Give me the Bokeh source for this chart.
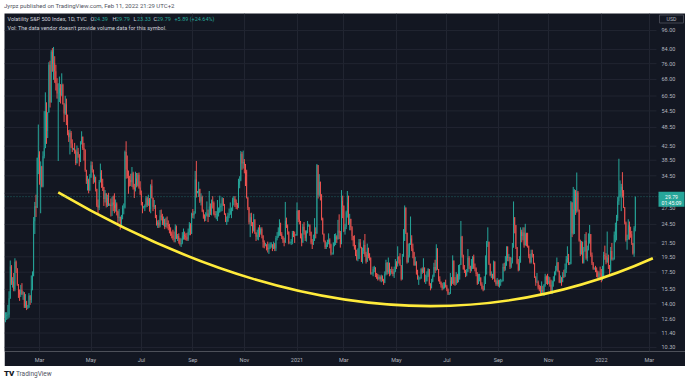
import math
import pandas as pd
from bokeh.plotting import figure
from bokeh.models import ColumnDataSource, FixedTicker, Range1d, Label, Span, Div
from bokeh.layouts import column
from bokeh.embed import file_html
from bokeh.resources import INLINE
from bokeh.core.properties import value

# ---------------- data (VIX daily, business days from 2020-01-21) ----------------
START = "2020-01-21"
FIRST_OPEN = 12.40

C20 = [
    12.85, 12.91, 12.98, 14.56, 18.23, 16.28, 16.39, 15.49, 18.84,  # Jan
    17.97, 16.05, 15.15, 14.96, 15.47, 15.04, 15.18, 13.74, 14.15, 13.68, 13.68, 14.83, 14.38, 15.56, 17.08, 25.03, 27.85, 27.56, 39.16, 40.11,  # Feb
    33.42, 36.82, 31.99, 39.62, 41.94, 54.46, 47.30, 53.90, 75.47, 57.83, 82.69, 75.91, 76.45, 72.00, 66.04, 61.59, 61.67, 63.95, 61.00, 65.54, 57.08, 53.54,  # Mar
    57.06, 50.91, 46.80, 45.24, 46.70, 43.35, 41.67, 41.67, 41.17, 37.76, 40.84, 40.11, 38.15, 43.83, 45.41, 41.98, 41.38, 35.93, 33.29, 33.57, 31.23, 34.15,  # Apr
    37.19, 35.97, 33.61, 34.12, 31.44, 27.98, 27.57, 33.04, 35.28, 32.61, 31.89, 29.30, 30.53, 27.99, 29.53, 28.16, 28.16, 27.91, 28.59, 28.12, 27.51,  # May
    28.23, 26.84, 25.66, 25.81, 24.52, 25.81, 27.57, 27.57, 40.79, 36.09, 34.40, 33.67, 33.47, 32.94, 35.12, 31.77, 31.37, 33.84, 32.22, 34.73, 31.78, 30.43,  # Jun
    28.62, 27.68, 27.68, 27.94, 29.43, 28.08, 29.26, 27.29, 32.19, 29.52, 27.76, 28.00, 25.68, 24.46, 24.84, 24.32, 26.08, 25.84, 24.74, 25.44, 24.10, 24.76, 24.46,  # Jul
    24.28, 23.76, 22.99, 22.65, 22.21, 22.13, 24.03, 22.28, 22.59, 22.05, 21.35, 21.51, 22.54, 22.72, 22.54, 22.37, 22.03, 23.27, 24.47, 22.96, 26.41,  # Aug
    26.12, 26.57, 33.60, 30.75, 30.75, 31.46, 28.81, 29.71, 26.87, 25.85, 25.59, 26.04, 26.46, 25.83, 27.78, 26.86, 28.58, 28.51, 26.38, 26.19, 26.27, 26.37,  # Sep
    26.70, 27.63, 27.96, 29.48, 28.06, 26.36, 25.00, 25.07, 26.07, 26.40, 26.97, 27.41, 29.18, 29.35, 28.65, 28.11, 27.55, 32.46, 33.35, 40.28, 37.59, 38.02,  # Oct
    37.13, 35.55, 29.57, 27.58, 24.86, 25.75, 24.80, 23.45, 25.35, 23.10, 22.45, 22.71, 23.84, 23.11, 23.70, 22.66, 21.64, 21.25, 21.25, 20.84, 20.57,  # Nov
    20.77, 21.17, 21.28, 20.79, 21.30, 20.68, 22.27, 22.52, 23.31, 24.72, 22.89, 22.50, 21.93, 21.57, 25.16, 24.23, 23.31, 21.53, 21.53, 21.70, 23.08, 22.77, 22.75,  # Dec
]
H20 = [
    13.2, 13.2, 13.9, 15.3, 19.0, 18.4, 16.9, 17.4, 19.3,
    19.0, 18.0, 16.1, 15.5, 16.0, 16.2, 15.3, 15.2, 15.0, 14.3, 13.9, 15.1, 14.9, 17.1, 17.6, 25.8, 28.7, 30.2, 39.2, 49.5,
    41.0, 38.2, 37.0, 41.0, 54.4, 62.1, 57.9, 54.0, 76.8, 77.6, 83.6, 84.8, 85.5, 80.1, 75.4, 68.6, 66.2, 69.4, 65.8, 71.0, 66.0, 57.6,
    60.6, 59.4, 53.1, 47.6, 47.8, 47.3, 44.6, 42.0, 43.5, 41.5, 42.7, 42.0, 40.2, 44.0, 47.2, 45.5, 43.5, 41.6, 36.0, 34.5, 33.8, 34.9,
    38.2, 38.1, 36.1, 34.8, 34.3, 31.5, 29.2, 33.5, 37.6, 35.9, 33.8, 31.9, 31.2, 30.5, 30.2, 30.6, 28.4, 29.4, 29.8, 30.0, 30.5,
    29.2, 28.6, 27.0, 27.3, 25.9, 26.2, 28.0, 28.4, 41.2, 44.0, 39.8, 35.8, 34.5, 35.0, 36.7, 35.5, 32.6, 35.5, 35.2, 35.2, 35.3, 33.2,
    31.1, 28.7, 27.9, 28.2, 29.9, 29.8, 30.2, 29.5, 32.5, 33.6, 29.6, 29.1, 28.1, 26.2, 25.2, 25.3, 27.1, 27.2, 26.4, 25.9, 25.5, 25.7, 25.9,
    25.2, 24.6, 24.0, 23.3, 23.6, 23.3, 24.5, 24.3, 22.9, 23.0, 22.3, 22.2, 23.2, 23.8, 23.3, 23.0, 23.1, 23.8, 24.9, 24.7, 26.6,
    27.3, 26.9, 35.7, 38.3, 31.0, 33.1, 31.5, 30.5, 30.0, 27.2, 26.3, 26.7, 28.8, 27.2, 31.0, 28.4, 29.2, 29.9, 28.8, 26.9, 26.9, 29.1,
    27.6, 30.0, 28.4, 29.7, 29.5, 28.3, 26.5, 25.9, 26.6, 27.4, 28.6, 27.6, 29.6, 29.9, 29.9, 29.2, 28.5, 33.8, 34.4, 41.1, 40.8, 41.2,
    38.8, 37.5, 36.0, 29.7, 27.7, 26.5, 26.6, 24.9, 26.4, 25.4, 23.2, 23.6, 24.0, 24.4, 24.0, 24.0, 22.7, 21.9, 21.5, 21.3, 21.7,
    21.4, 21.6, 21.6, 21.3, 21.7, 21.5, 22.6, 23.2, 24.0, 25.4, 24.8, 23.2, 22.6, 22.3, 28.7, 25.7, 24.5, 23.3, 21.7, 22.1, 23.4, 23.4, 23.3,
]
L20 = [
    12.3, 12.5, 12.6, 12.7, 14.5, 16.0, 15.7, 15.3, 15.3,
    17.4, 15.9, 14.6, 14.3, 14.7, 14.9, 14.4, 13.6, 13.6, 13.4, 13.5, 13.6, 13.9, 14.1, 15.4, 17.0, 22.9, 25.8, 27.5, 34.9,
    32.4, 26.5, 31.8, 31.8, 39.0, 41.9, 43.2, 45.0, 53.8, 55.8, 57.8, 71.8, 67.8, 66.4, 62.9, 59.4, 38.3, 58.0, 57.4, 60.4, 57.0, 50.4,
    53.0, 49.3, 45.9, 43.8, 40.1, 42.0, 40.8, 41.3, 40.3, 37.2, 37.6, 39.2, 36.9, 38.0, 43.0, 41.4, 38.4, 35.5, 32.6, 31.1, 30.5, 31.0,
    34.0, 35.3, 32.6, 32.9, 30.9, 27.7, 26.5, 27.1, 32.9, 31.7, 31.0, 27.9, 28.6, 27.6, 27.7, 27.9, 27.9, 25.9, 26.0, 26.9, 26.5,
    26.8, 26.1, 24.6, 25.0, 23.6, 24.3, 25.4, 26.3, 27.4, 33.8, 33.9, 30.4, 32.0, 32.1, 31.9, 31.3, 29.5, 30.9, 31.8, 32.0, 31.5, 30.1,
    28.0, 26.5, 27.4, 26.9, 27.6, 27.7, 27.9, 26.8, 26.5, 29.4, 26.9, 27.3, 25.6, 24.3, 23.9, 23.9, 24.0, 25.2, 24.4, 24.3, 23.7, 24.0, 23.8,
    23.5, 23.0, 22.6, 22.2, 21.9, 21.6, 21.6, 22.1, 21.8, 21.4, 21.1, 20.9, 21.3, 22.0, 22.0, 21.9, 21.8, 21.8, 22.7, 22.7, 22.9,
    25.6, 25.5, 26.4, 29.6, 30.5, 29.7, 28.5, 28.0, 26.7, 25.5, 25.0, 25.1, 25.9, 24.9, 25.8, 26.2, 26.1, 27.4, 26.1, 25.7, 25.4, 25.1,
    25.9, 26.6, 26.8, 26.9, 27.9, 26.2, 24.9, 24.4, 24.9, 25.6, 26.2, 25.6, 26.9, 28.0, 27.7, 27.3, 27.2, 27.5, 31.6, 33.2, 36.0, 36.3,
    35.1, 32.1, 29.4, 27.1, 24.5, 22.4, 24.2, 23.0, 23.3, 22.9, 21.8, 22.0, 21.9, 22.4, 22.8, 22.2, 20.8, 20.7, 21.0, 20.4, 20.1,
    19.9, 20.6, 20.8, 20.3, 20.6, 20.3, 20.3, 21.9, 22.3, 22.6, 22.6, 22.1, 21.5, 21.0, 21.5, 23.9, 22.8, 21.3, 21.4, 21.2, 21.3, 22.4, 21.5,
]

C21 = [
    22.75, 26.97, 25.34, 25.07, 22.37, 21.56, 24.08, 23.33, 22.21, 23.25, 24.34, 24.34, 23.24, 21.58, 21.32, 21.91, 23.19, 23.02, 37.21, 30.21, 33.09,  # Jan
    30.24, 25.56, 22.91, 21.77, 20.87, 21.24, 21.63, 21.99, 21.25, 19.97, 19.97, 21.46, 21.50, 22.49, 22.05, 23.45, 23.11, 21.34, 28.89, 27.95,  # Feb
    23.35, 24.10, 26.67, 28.57, 24.66, 25.47, 24.03, 22.56, 21.91, 20.69, 19.79, 19.23, 19.23, 21.58, 20.95, 18.88, 20.30, 21.20, 19.81, 18.86, 20.74, 19.61, 19.40,  # Mar
    17.33, 17.33, 17.91, 18.12, 17.16, 16.95, 16.69, 16.91, 16.65, 16.99, 16.57, 16.25, 17.29, 18.68, 17.50, 18.71, 17.33, 17.64, 17.56, 17.28, 17.61, 18.61,  # Apr
    18.31, 19.48, 19.15, 18.39, 16.69, 19.66, 21.84, 27.59, 23.13, 18.81, 19.72, 21.34, 22.18, 20.67, 20.15, 18.40, 18.84, 17.36, 16.74, 16.76, 16.76,  # May
    17.90, 17.48, 18.04, 16.42, 16.42, 17.07, 17.89, 16.10, 15.65, 16.39, 17.02, 18.15, 17.75, 20.70, 17.89, 16.66, 16.32, 15.97, 15.62, 15.76, 16.02, 15.83,  # Jun
    15.48, 15.07, 15.07, 16.44, 16.20, 19.00, 16.18, 16.17, 17.12, 16.33, 17.01, 18.45, 22.50, 19.73, 17.91, 17.69, 17.20, 17.58, 19.36, 18.31, 17.70, 18.24,  # Jul
    19.46, 18.04, 17.97, 17.28, 16.15, 16.72, 16.79, 16.06, 15.59, 15.45, 16.12, 17.91, 21.57, 21.67, 18.56, 17.15, 17.22, 16.79, 18.84, 16.39, 16.11, 16.48,  # Aug
    16.11, 16.41, 16.41, 16.41, 18.14, 17.96, 18.80, 20.95, 19.37, 19.46, 18.18, 18.69, 20.81, 25.71, 24.36, 20.87, 18.63, 17.75, 18.76, 23.25, 22.56, 23.14,  # Sep
    21.15, 22.96, 21.30, 21.00, 19.54, 18.77, 20.00, 19.85, 18.64, 16.86, 16.30, 16.30, 15.70, 15.49, 15.01, 15.43, 15.24, 15.98, 16.98, 16.53, 16.26,  # Oct
    16.41, 16.03, 15.10, 16.39, 16.48, 17.22, 17.78, 18.73, 17.66, 16.29, 16.49, 16.37, 17.11, 16.99, 17.91, 19.17, 19.38, 18.58, 18.58, 28.62, 22.96, 27.19,  # Nov
    31.12, 26.88, 30.67, 27.18, 21.89, 19.90, 21.58, 18.69, 20.31, 21.89, 19.29, 20.57, 21.57, 22.87, 19.70, 18.63, 17.96, 17.96, 17.68, 17.54, 16.95, 17.33, 17.22,  # Dec
]
H21 = [
    22.9, 28.6, 27.1, 27.1, 25.1, 23.0, 24.6, 24.9, 23.5, 23.5, 25.1, 24.6, 24.5, 23.3, 22.1, 22.8, 25.6, 24.0, 37.5, 37.2, 34.9,
    33.1, 30.3, 25.7, 23.0, 21.9, 21.6, 22.0, 23.0, 22.2, 21.4, 20.1, 21.6, 22.9, 23.0, 22.7, 25.3, 26.3, 23.4, 31.2, 30.0,
    28.0, 24.6, 27.0, 31.0, 30.0, 26.4, 25.5, 24.2, 22.6, 22.7, 21.2, 20.5, 20.7, 22.1, 22.1, 20.9, 20.8, 21.9, 22.9, 20.2, 21.4, 20.8, 20.0,
    19.4, 17.5, 18.2, 18.3, 18.1, 17.4, 17.3, 17.2, 17.1, 17.2, 17.1, 16.7, 17.6, 19.1, 18.8, 19.4, 18.7, 17.9, 18.2, 17.9, 18.2, 19.2,
    18.9, 21.0, 19.6, 20.0, 18.4, 19.9, 23.7, 28.0, 27.6, 23.1, 21.4, 21.5, 25.9, 22.7, 21.4, 20.2, 19.5, 18.9, 17.8, 17.1, 16.9,
    18.0, 18.1, 19.3, 18.1, 17.2, 17.6, 18.0, 17.9, 16.2, 16.7, 17.2, 18.7, 19.1, 21.3, 20.7, 17.9, 17.0, 16.4, 16.2, 16.3, 16.3, 16.6,
    16.0, 15.6, 15.2, 17.4, 16.9, 19.7, 19.0, 16.9, 17.5, 17.3, 18.4, 18.5, 25.1, 22.6, 19.8, 18.4, 17.8, 17.9, 20.6, 19.6, 18.3, 19.2,
    19.6, 19.8, 18.6, 18.1, 17.5, 17.3, 17.3, 16.9, 16.3, 15.9, 17.0, 19.7, 21.8, 24.0, 21.7, 18.6, 17.6, 17.3, 19.0, 18.9, 16.6, 16.8,
    16.6, 16.6, 16.7, 16.6, 18.6, 18.7, 19.6, 21.0, 21.0, 19.9, 19.5, 19.4, 21.5, 28.8, 25.8, 24.4, 20.9, 19.2, 19.6, 24.0, 23.6, 24.0,
    24.0, 24.6, 23.1, 23.1, 21.1, 19.9, 20.5, 20.5, 19.9, 18.7, 17.0, 17.4, 16.5, 16.0, 15.9, 16.4, 15.9, 16.1, 17.3, 17.1, 17.3,
    17.0, 16.9, 16.6, 16.5, 17.0, 17.6, 18.3, 19.4, 18.8, 17.7, 17.1, 16.9, 17.5, 17.8, 18.6, 19.6, 21.0, 19.9, 18.8, 28.9, 28.6, 31.9,
    31.4, 31.2, 35.3, 31.0, 27.2, 22.0, 21.8, 21.7, 20.9, 22.9, 23.2, 21.1, 23.0, 24.4, 22.9, 20.1, 18.8, 18.1, 18.3, 18.1, 17.7, 17.6, 18.2,
]
L21 = [
    22.6, 22.6, 24.9, 24.5, 22.2, 21.0, 21.5, 22.8, 21.8, 21.7, 23.0, 24.1, 22.6, 21.3, 20.6, 21.2, 21.8, 22.2, 22.9, 29.4, 29.8,
    29.0, 25.2, 22.8, 21.6, 20.6, 20.6, 20.9, 21.3, 20.7, 19.7, 19.8, 19.8, 21.0, 21.2, 21.5, 22.0, 22.1, 20.8, 21.3, 25.6,
    23.2, 22.8, 23.7, 25.7, 24.4, 23.5, 23.5, 21.9, 21.0, 20.5, 19.6, 19.0, 18.9, 19.2, 20.7, 18.8, 18.6, 19.9, 19.5, 18.6, 18.8, 19.3, 19.0,
    17.2, 17.2, 17.0, 17.5, 16.9, 16.7, 16.5, 16.6, 16.4, 16.3, 16.4, 16.0, 16.2, 17.1, 17.2, 17.3, 17.0, 17.1, 17.3, 17.0, 16.8, 17.5,
    17.9, 18.2, 18.6, 18.3, 16.5, 16.6, 19.5, 21.8, 22.9, 18.6, 18.7, 19.4, 21.2, 20.3, 19.3, 18.3, 18.3, 17.2, 16.6, 16.0, 16.6,
    16.7, 17.3, 17.4, 16.3, 16.1, 16.4, 16.9, 15.9, 15.4, 15.6, 16.3, 16.9, 17.4, 17.7, 17.8, 16.4, 16.1, 15.7, 15.4, 15.5, 15.6, 15.7,
    15.3, 14.9, 14.9, 15.0, 15.9, 16.1, 16.0, 15.9, 16.0, 16.2, 16.3, 16.6, 18.4, 19.4, 17.8, 17.4, 16.9, 17.0, 17.5, 17.9, 17.4, 17.6,
    17.9, 17.9, 17.6, 17.0, 16.0, 16.1, 16.4, 15.9, 15.5, 15.3, 15.4, 16.1, 17.2, 20.9, 18.4, 17.0, 16.8, 16.6, 16.7, 16.3, 15.9, 15.9,
    15.8, 15.7, 15.9, 16.3, 16.4, 17.6, 17.7, 18.3, 18.9, 18.9, 17.9, 18.0, 18.6, 20.8, 23.0, 20.6, 18.5, 17.6, 17.7, 18.7, 21.6, 21.9,
    20.8, 21.1, 21.0, 20.8, 19.3, 18.6, 18.6, 19.4, 18.5, 16.8, 15.9, 16.2, 15.5, 15.3, 14.9, 14.9, 15.0, 14.8, 15.8, 16.1, 16.0,
    16.1, 15.8, 15.0, 15.0, 15.8, 16.4, 17.1, 17.6, 17.5, 16.2, 16.2, 15.9, 16.3, 16.8, 16.9, 17.4, 18.7, 18.4, 18.4, 18.5, 22.4, 22.8,
    22.9, 26.2, 26.6, 26.8, 21.7, 19.6, 19.8, 18.6, 18.6, 20.2, 19.1, 18.9, 20.4, 21.4, 19.5, 18.4, 17.8, 17.8, 17.5, 16.9, 16.8, 16.6, 16.7,
]

C22 = [
    16.60, 16.91, 19.73, 19.61, 18.76, 19.40, 18.41, 17.62, 20.31, 19.19, 19.19, 22.79, 23.85, 25.59, 28.85, 29.90, 31.16, 31.96, 30.49, 27.66, 24.83,  # Jan
    21.96, 22.09, 24.35, 23.22, 22.86, 21.44, 19.96, 23.91, 29.79,  # Feb
]
H22 = [
    17.9, 18.3, 20.2, 21.1, 20.0, 23.3, 19.8, 18.4, 20.9, 21.5, 19.4, 23.3, 24.8, 26.2, 29.7, 38.9, 33.4, 32.6, 35.4, 31.2, 27.7,
    25.0, 22.8, 25.4, 25.0, 24.1, 23.4, 21.5, 24.2, 29.79,
]
L22 = [
    16.3, 16.5, 16.8, 19.1, 18.5, 18.7, 17.9, 17.1, 17.5, 19.0, 19.0, 19.1, 21.6, 21.9, 25.1, 28.1, 29.6, 26.9, 29.6, 27.5, 24.5,
    21.7, 20.5, 22.0, 22.0, 22.3, 21.2, 19.8, 19.5, 23.33,
]

tick_dates = ["2020-03-02", "2020-05-01", "2020-07-01", "2020-09-01", "2020-11-02", "2021-01-04",
              "2021-03-01", "2021-05-03", "2021-07-01", "2021-09-01", "2021-11-01", "2022-01-03", "2022-03-01"]
tick_labels = ["Mar", "May", "Jul", "Sep", "Nov", "2021", "Mar", "May", "Jul", "Sep", "Nov", "2022", "Mar"]
price_ticks = [96.0, 84.0, 76.0, 68.0, 60.5, 54.5, 48.5, 42.5, 38.5, 34.5, 30.5, 27.5, 24.5,
               21.5, 19.5, 17.5, 15.5, 14.0, 12.6, 11.4, 10.3]
hidden_by_tag = [30.5]

# yellow hand-drawn arc: start, control, end
curve_dates = ["2020-03-24", "2021-04-13", "2022-03-04"]
curve_values = [30.7, 8.2, 19.3]

last_price = 29.79
ohlc_header = [("O", "24.39"), ("H", "29.79"), ("L", "23.33"), ("C", "29.79")]
change_text = "+5.89 (+24.64%)"

# ---------------- layout constants ----------------
BG = "#131722"
UP = "#26a69a"
DN = "#ef5350"
TXT = "#b2b5be"
GRID = "#212531"
FONT = "Roboto"

W, H = 681, 353          # dark chart box
AXIS_H = 15              # time-scale row
FRAME_H = H - AXIS_H
X_LEFT, X_PANE, X_RIGHT = -0.9, 556.1, 580.9   # bar-index units: left edge, price-scale edge, right edge
Y_BOT, Y_TOP = 10.01, 108.2
K = FRAME_H / math.log(Y_TOP / Y_BOT)        # px per ln unit
BAR_PX = W / (X_RIGHT - X_LEFT)


def y_at(px_from_top):
    return Y_TOP * math.exp(-px_from_top / K)


def y_shift(v, px_up):
    return v * math.exp(px_up / K)


def x_at(px_from_left):
    return X_LEFT + px_from_left / BAR_PX


# ---------------- build ----------------
close = C20 + C21 + C22
high = H20 + H21 + H22
low = L20 + L21 + L22
n = min(len(close), len(high), len(low))
close, high, low = close[:n], high[:n], low[:n]
opens = [FIRST_OPEN] + close[:-1]
days = pd.bdate_range(START, "2022-06-30")
src = ColumnDataSource(dict(
    x=list(range(n)), high=high, low=low,
    top=[max(o, c) for o, c in zip(opens, close)],
    bottom=[min(o, c) for o, c in zip(opens, close)],
    color=[UP if c >= o else DN for o, c in zip(opens, close)],
))

p = figure(width=W, height=H, x_range=Range1d(X_LEFT, X_RIGHT), y_range=Range1d(Y_BOT, Y_TOP),
           y_axis_type="log", y_axis_location=None, toolbar_location=None,
           output_backend="svg", background_fill_color=BG, border_fill_color=BG,
           min_border_left=0, min_border_top=0, min_border_right=0, min_border_bottom=AXIS_H,
           outline_line_color=None, margin=(0, 0, 0, 4))

for g in p.grid:
    if g.dimension == 1:
        g.visible = False
        g.grid_line_color = None

tick_pos = [days.get_loc(pd.Timestamp(d)) for d in tick_dates]
xt = FixedTicker(ticks=tick_pos)
p.xaxis.ticker = xt
p.xgrid.ticker = xt
p.xaxis.major_label_overrides = dict(zip(tick_pos, tick_labels))
p.xaxis.axis_line_color = None
p.xaxis.major_tick_line_color = None
p.xaxis.minor_tick_line_color = None
p.xaxis.major_tick_out = 0
p.xaxis.major_tick_in = 0
p.xaxis.minor_tick_out = 0
p.xaxis.major_label_standoff = 5
p.xaxis.major_label_text_color = TXT
p.xaxis.major_label_text_font = FONT
p.xaxis.major_label_text_font_size = "5.5px"
p.xgrid.grid_line_color = GRID

# horizontal grid of the price pane
p.segment(x0=[X_LEFT] * len(price_ticks), x1=[X_PANE] * len(price_ticks), y0=price_ticks, y1=price_ticks,
          line_color=GRID, line_width=1)

# candles
p.segment(x0="x", y0="low", x1="x", y1="high", line_color="color", line_width=1, source=src)
p.vbar(x="x", width=0.6, top="top", bottom="bottom", fill_color="color", line_color=None, source=src)

# hand-drawn yellow arc
cpos = [days.get_loc(pd.Timestamp(d)) for d in curve_dates]
p.quadratic(x0=cpos[0], y0=curve_values[0], cx=cpos[1], cy=curve_values[1],
            x1=cpos[2], y1=curve_values[2], line_color="#ffeb3b", line_width=2.6)

# last-price line
p.add_layout(Span(location=last_price, dimension="width", line_color=UP, line_alpha=0.55,
                  line_dash="1 2", line_width=1))

# price scale labels
shown = [v for v in price_ticks if v not in hidden_by_tag]
p.text(x=[x_at(657)] * len(shown), y=shown, text=[f"{v:.2f}" for v in shown],
       text_color=TXT, text_font=value(FONT), text_font_size=value("5.5px"),
       text_baseline="middle", text_align="left")

# last-price tag on the price scale
p.quad(left=[x_at(654)], right=[x_at(680)], top=[y_shift(last_price, 5)], bottom=[y_shift(last_price, -10)],
       fill_color=UP, line_color=None)
p.text(x=[x_at(667)] * 2, y=[last_price, y_shift(last_price, -6)], text=[f"{last_price:.2f}", "01:45:09"],
       text_color="white", text_font=value(FONT), text_font_size=value("5.2px"),
       text_baseline="middle", text_align="center")

# currency box at the top of the price scale
p.quad(left=[x_at(655)], right=[x_at(679)], top=[y_at(1.5)], bottom=[y_at(9.5)],
       fill_color=BG, line_color="#434651", line_width=1)
p.text(x=[x_at(667)], y=[y_at(5.5)], text=["USD"], text_color=TXT, text_font=value(FONT),
       text_font_size=value("5.2px"), text_baseline="middle", text_align="center")

# legend line of the pane
hdr = [("Volatility S&P 500 Index, 1D, TVC", 3, "#d1d4dc")]
xpos = [86, 108, 129, 149]
for (letter, val), x in zip(ohlc_header, xpos):
    hdr.append((letter, x, "#d1d4dc"))
    hdr.append((val, x + 3.5, UP))
hdr.append((change_text, 170, UP))
for t, x, col in hdr:
    p.add_layout(Label(x=x, y=y_at(5), x_units="screen", text=t, text_color=col,
                       text_font=FONT, text_font_size="5.5px", text_baseline="middle"))
p.add_layout(Label(x=3, y=y_at(14), x_units="screen",
                   text="Vol: The data vendor doesn't provide volume data for this symbol.",
                   text_color="#d1d4dc", text_font=FONT, text_font_size="5.5px", text_baseline="middle"))

top_div = Div(text="Jyrpz published on TradingView.com, Feb 11, 2022 21:29 UTC+2", width=W, height=13,
              margin=(0, 0, 0, 4), styles={"font-size": "6px", "line-height": "12px", "color": "#50535e",
                                           "font-family": "Roboto, sans-serif", "white-space": "nowrap"})
bot_div = Div(text='<span style="font-weight:900;font-size:8px;color:#131722">TV</span> TradingView',
              width=W, height=16, margin=(0, 0, 0, 4),
              styles={"font-size": "6.5px", "line-height": "16px", "color": "#50535e",
                      "font-family": "Roboto, sans-serif", "white-space": "nowrap"})
layout = column(top_div, p, bot_div, margin=0)

open("out.html", "w").write(file_html(layout, INLINE))
